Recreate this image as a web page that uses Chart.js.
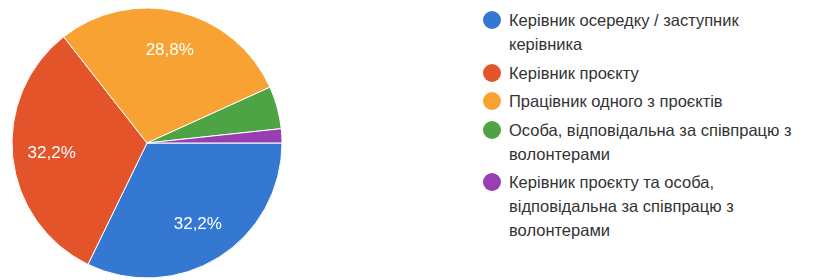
<!DOCTYPE html>
<html>
<head>
<meta charset="utf-8">
<script src="https://cdn.jsdelivr.net/npm/chart.js@4/dist/chart.umd.min.js"></script>
<style>
  html, body { margin: 0; padding: 0; background: #ffffff; width: 821px; height: 280px; overflow: hidden; }
  #pieBox { position: absolute; left: 0; top: 0; width: 294px; height: 286px; }
  #legend { position: absolute; left: 483px; top: 8px; font-family: "Liberation Sans", Arial, sans-serif; font-size: 16.5px; color: #333333; }
  .item { position: relative; padding-left: 26px; margin-bottom: 4.5px; line-height: 24px; white-space: nowrap; }
  .dot { position: absolute; left: 0px; top: 3px; width: 18px; height: 18px; border-radius: 50%; }
</style>
</head>
<body>
<div id="pieBox"><canvas id="pie"></canvas></div>
<div id="legend"></div>
<script>
// Categories (each split into the lines shown in the legend)
const categories = [
  ["Керівник осередку / заступник", "керівника"],
  ["Керівник проєкту"],
  ["Працівник одного з проєктів"],
  ["Особа, відповідальна за співпрацю з", "волонтерами"],
  ["Керівник проєкту та особа,", "відповідальна за співпрацю з", "волонтерами"]
];
// Number of responses per category
const responses = [19, 19, 17, 3, 1];
const sliceColors = ["#3478d2", "#e3542b", "#f8a233", "#4ea345", "#973fb3"];

const total = responses.reduce((a, b) => a + b, 0);
const fmtPct = v => (v / total * 100).toFixed(1).replace('.', ',') + '%';

const sliceLabels = {
  id: 'sliceLabels',
  afterDatasetsDraw(chart) {
    const ctx = chart.ctx;
    const meta = chart.getDatasetMeta(0);
    ctx.save();
    ctx.fillStyle = '#ffffff';
    ctx.font = '17px "Liberation Sans", Arial, sans-serif';
    ctx.textAlign = 'center';
    ctx.textBaseline = 'middle';
    meta.data.forEach((arc, i) => {
      const v = chart.data.datasets[0].data[i];
      if (v / total < 0.1) return;
      const p = arc.getProps(['x', 'y', 'startAngle', 'endAngle', 'outerRadius'], true);
      const mid = (p.startAngle + p.endAngle) / 2;
      const r = p.outerRadius * 0.71;
      ctx.fillText(fmtPct(v), p.x + Math.cos(mid) * r, p.y + Math.sin(mid) * r);
    });
    ctx.restore();
  }
};

new Chart(document.getElementById('pie'), {
  type: 'pie',
  data: {
    labels: categories,
    datasets: [{
      data: responses,
      backgroundColor: sliceColors,
      borderColor: '#ffffff',
      borderWidth: 1,
      hoverOffset: 0
    }]
  },
  options: {
    responsive: true,
    maintainAspectRatio: false,
    animation: false,
    rotation: 90,
    radius: 135,
    layout: { padding: 0 },
    plugins: { legend: { display: false }, tooltip: { enabled: false } }
  },
  plugins: [sliceLabels]
});

// HTML legend built from the same arrays
const legend = document.getElementById('legend');
categories.forEach((lines, i) => {
  const item = document.createElement('div');
  item.className = 'item';
  const dot = document.createElement('span');
  dot.className = 'dot';
  dot.style.background = sliceColors[i];
  item.appendChild(dot);
  lines.forEach((ln, j) => {
    if (j) item.appendChild(document.createElement('br'));
    item.appendChild(document.createTextNode(ln));
  });
  legend.appendChild(item);
});
</script>
</body>
</html>
